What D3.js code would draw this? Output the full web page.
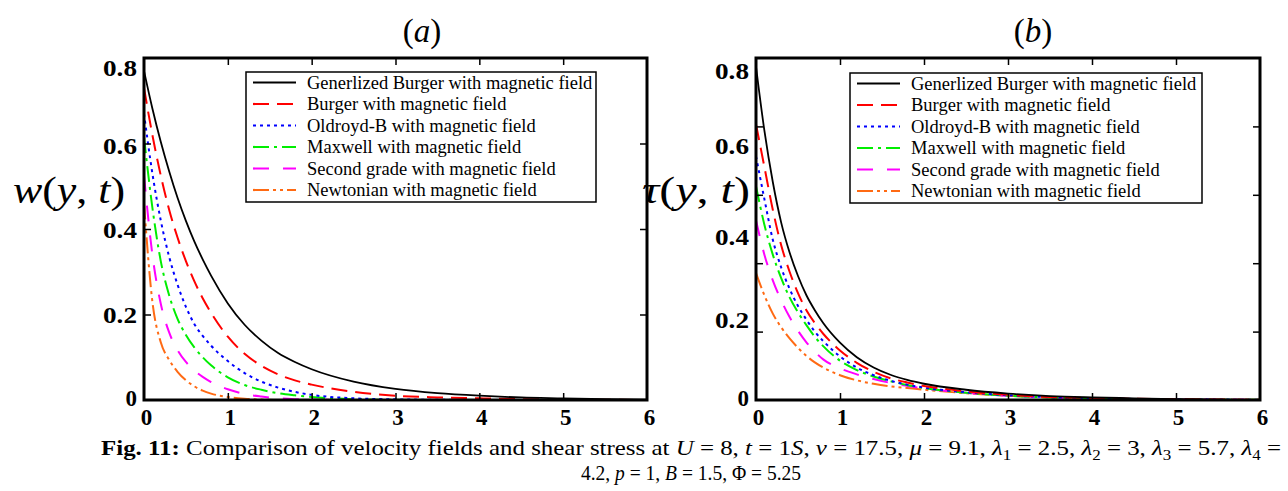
<!DOCTYPE html>
<html><head><meta charset="utf-8">
<script src="https://cdn.jsdelivr.net/npm/d3@7"></script>
<style>body{margin:0;background:#fff} svg{display:block}</style>
</head><body>
<svg id="chart" width="1288" height="491"></svg>
<script>
// ---------------- data ----------------
const yDistance = [0,0.1,0.2,0.3,0.4,0.5,0.6,0.7,0.8,1.0,1.2,1.4,1.6,1.8,2.0,2.5,3.0,3.5,4.0,4.5,5.0,5.5,6.0];
const seriesNames = [
  "Generlized Burger with magnetic field",
  "Burger with magnetic field",
  "Oldroyd-B with magnetic field",
  "Maxwell with magnetic field",
  "Second grade with magnetic field",
  "Newtonian with magnetic field"
];
// (a) velocity w(y,t)
const velGenBurger = [0.77,0.682,0.604,0.535,0.473,0.419,0.371,0.329,0.291,0.226,0.176,0.139,0.11,0.089,0.072,0.043,0.026,0.016,0.010,0.006,0.004,0.002,0.001];
const velBurger    = [0.73,0.62,0.525,0.445,0.38,0.325,0.278,0.238,0.204,0.148,0.108,0.08,0.06,0.046,0.036,0.019,0.01,0.006,0.004,0.002,0.001,0.0005,0];
const velOldroyd   = [0.67,0.53,0.42,0.335,0.27,0.218,0.178,0.15,0.127,0.091,0.063,0.043,0.029,0.019,0.012,0.004,0.0015,0.0005,0,0,0,0,0];
const velMaxwell   = [0.615,0.45,0.325,0.245,0.19,0.152,0.123,0.1,0.081,0.053,0.035,0.024,0.016,0.011,0.007,0.002,0.0005,0,0,0,0,0,0];
const velSecond    = [0.525,0.34,0.225,0.158,0.117,0.089,0.069,0.054,0.042,0.025,0.014,0.008,0.004,0.002,0.001,0,0,0,0,0,0,0,0];
const velNewtonian = [0.46,0.23,0.135,0.094,0.066,0.046,0.032,0.022,0.015,0.007,0.003,0.001,0,0,0,0,0,0,0,0,0,0,0];
// (b) shear stress tau(y,t)
const tauGenBurger = [0.78,0.63,0.51,0.415,0.345,0.29,0.245,0.21,0.18,0.134,0.1,0.076,0.059,0.047,0.038,0.024,0.015,0.009,0.006,0.004,0.002,0.001,0.0005];
const tauBurger    = [0.645,0.545,0.445,0.362,0.3,0.25,0.21,0.18,0.155,0.116,0.087,0.066,0.051,0.041,0.033,0.02,0.012,0.007,0.0045,0.003,0.002,0.001,0.0005];
const tauOldroyd   = [0.57,0.47,0.375,0.31,0.26,0.22,0.188,0.16,0.138,0.102,0.076,0.058,0.045,0.036,0.029,0.018,0.011,0.0065,0.004,0.0025,0.0015,0.001,0.0005];
const tauMaxwell   = [0.5,0.41,0.34,0.285,0.24,0.205,0.175,0.148,0.126,0.092,0.07,0.055,0.044,0.035,0.028,0.017,0.01,0.006,0.0037,0.0023,0.0014,0.0008,0.0004];
const tauSecond    = [0.42,0.34,0.28,0.233,0.194,0.162,0.135,0.113,0.095,0.074,0.06,0.049,0.04,0.033,0.027,0.017,0.01,0.006,0.0035,0.002,0.0012,0.0007,0.0003];
const tauNewtonian = [0.297,0.245,0.202,0.17,0.144,0.122,0.103,0.088,0.076,0.058,0.046,0.038,0.032,0.028,0.024,0.016,0.01,0.006,0.0035,0.002,0.0013,0.0008,0.0004];

const xTicks = [0,1,2,3,4,5,6];
const yTickLabels = [0,0.2,0.4,0.6,0.8];
const yTickMarksA = [0.2,0.4,0.6];
const yTickMarksB = [0.16,0.32,0.48,0.64];

// ---------------- style ----------------
const colors = ["#000000","#ff0000","#0000ff","#00ee00","#ff00ff","#ff6a13"];
const dashes = [null,"16,8","3,4","16,5,3,5","16,14","16,4,3,4,3,4"];

const svg = d3.select("#chart");
const plotTop = 58, plotBottom = 400;

function drawPanel(cfg){
  const x = d3.scaleLinear().domain([0,6]).range([cfg.x0,cfg.x1]);
  const y = d3.scaleLinear().domain([0,0.8]).range([plotBottom,plotTop]);
  const g = svg.append("g");
  const clipId = "clip"+cfg.id;
  svg.append("clipPath").attr("id",clipId).append("rect")
    .attr("x",cfg.x0).attr("y",plotTop-2).attr("width",cfg.x1-cfg.x0).attr("height",plotBottom-plotTop+2);

  const line = d3.line().x((d,i)=>x(yDistance[i])).y(d=>y(d)).curve(d3.curveMonotoneX);
  const lg = g.append("g").attr("clip-path",`url(#${clipId})`);
  cfg.series.slice().reverse().forEach((s,ri)=>{
    const i = cfg.series.length-1-ri;
    lg.append("path").attr("d",line(s)).attr("fill","none")
      .attr("stroke",colors[i]).attr("stroke-width",i===0?1.8:2)
      .attr("stroke-dasharray",dashes[i]);
  });

  // tick marks (inward)
  const tickStyle = sel=>{ sel.select(".domain").remove(); sel.selectAll("line").attr("stroke","#000").attr("stroke-width",1.5); };
  g.append("g").attr("transform",`translate(0,${plotBottom})`)
    .call(d3.axisBottom(x).tickValues([1,2,3,4,5]).tickSizeInner(-7).tickSizeOuter(0).tickFormat(""))
    .call(tickStyle);
  g.append("g").attr("transform",`translate(0,${plotTop})`)
    .call(d3.axisTop(x).tickValues([1,2,3,4,5]).tickSizeInner(-7).tickSizeOuter(0).tickFormat(""))
    .call(tickStyle);
  g.append("g").attr("transform",`translate(${cfg.x0},0)`)
    .call(d3.axisLeft(y).tickValues(cfg.yMarks).tickSizeInner(-7).tickSizeOuter(0).tickFormat(""))
    .call(tickStyle);
  g.append("g").attr("transform",`translate(${cfg.x1},0)`)
    .call(d3.axisRight(y).tickValues(cfg.yMarks).tickSizeInner(-7).tickSizeOuter(0).tickFormat(""))
    .call(tickStyle);

  // tick labels
  const labStyle = sel=>{ sel.select(".domain").remove(); sel.selectAll("line").remove();
    sel.selectAll("text").attr("font-family","'Liberation Serif',serif").attr("font-weight","bold")
      .attr("font-size",23).attr("fill","#000"); };
  g.append("g").attr("transform",`translate(2,${plotBottom})`)
    .call(d3.axisBottom(x).tickValues(xTicks).tickSize(0).tickPadding(9).tickFormat(d3.format("d")))
    .call(labStyle);
  const yl = g.append("g").attr("transform",`translate(${cfg.x0-7},0)`)
    .call(d3.axisLeft(y).tickValues(yTickLabels).tickSize(0).tickPadding(0).tickFormat(d=>d===0?"0":d3.format(".1f")(d)))
    .call(labStyle);
  yl.selectAll("text").attr("dy",(d,i)=> (cfg.labelShift[i]+8)+"px")
    .filter(d=>d!==0).attr("textLength",34).attr("lengthAdjust","spacingAndGlyphs");

  // frame
  g.append("rect").attr("x",cfg.x0).attr("y",plotTop).attr("width",cfg.x1-cfg.x0).attr("height",plotBottom-plotTop)
    .attr("fill","none").attr("stroke","#000").attr("stroke-width",3);

  // legend
  const L = cfg.legend;
  const leg = g.append("g");
  leg.append("rect").attr("x",L.x).attr("y",L.y).attr("width",L.w).attr("height",L.h)
    .attr("fill","#fff").attr("stroke","#000").attr("stroke-width",1.5);
  seriesNames.forEach((n,i)=>{
    const cy = L.y + 10.5 + i*21.5;
    leg.append("line").attr("x1",L.x+7).attr("x2",L.x+50).attr("y1",cy).attr("y2",cy)
      .attr("stroke",colors[i]).attr("stroke-width",2.2).attr("stroke-dasharray",dashes[i]);
    leg.append("text").attr("x",L.x+61).attr("y",cy+6).text(n)
      .attr("font-family","'Liberation Serif',serif").attr("font-size",18.5).attr("fill","#000");
  });

  // title
  const t = g.append("text").attr("x",cfg.titleX).attr("y",42).attr("text-anchor","middle")
    .attr("font-family","'Liberation Serif',serif").attr("font-size",33);
  t.append("tspan").text("(");
  t.append("tspan").attr("font-style","italic").text(cfg.title);
  t.append("tspan").text(")");

  // y label
  const yt = g.append("text").attr("x",cfg.ylabX).attr("y",203)
    .attr("font-family","'Liberation Serif',serif").attr("font-size",38)
    .attr("textLength",cfg.ylabW).attr("lengthAdjust","spacingAndGlyphs");
  yt.append("tspan").attr("font-style","italic").text(cfg.ylab);
  yt.append("tspan").text("(");
  yt.append("tspan").attr("font-style","italic").text("y");
  yt.append("tspan").text(", ");
  yt.append("tspan").attr("font-style","italic").text("t");
  yt.append("tspan").text(")");
}

drawPanel({id:"a", x0:144, x1:647, title:"a", titleX:422, ylab:"w", ylabX:13, ylabW:112,
  series:[velGenBurger,velBurger,velOldroyd,velMaxwell,velSecond,velNewtonian],
  yMarks:yTickMarksA, labelShift:[-3,0,0,2,9],
  legend:{x:246,y:72,w:350,h:130}});
drawPanel({id:"b", x0:756, x1:1260, title:"b", titleX:1033, ylab:"τ", ylabX:642, ylabW:108,
  series:[tauGenBurger,tauBurger,tauOldroyd,tauMaxwell,tauSecond,tauNewtonian],
  yMarks:yTickMarksB, labelShift:[-3,5,7,2,12],
  legend:{x:850,y:73,w:352,h:130}});

// caption
function addParts(el, parts){
  let sub=false;
  parts.forEach(([txt,st])=>{
    const ts = el.append("tspan").text(txt);
    if(st==="b") ts.attr("font-weight","bold");
    if(st==="i") ts.attr("font-style","italic");
    if(st==="s"){ ts.attr("font-size",15).attr("dy",5); sub=true; }
    else if(sub){ ts.attr("dy",-5); sub=false; }
  });
}
const cap1 = svg.append("text").attr("x",101).attr("y",455)
  .attr("font-family","'Liberation Serif',serif").attr("font-size",22)
  .attr("textLength",1180).attr("lengthAdjust","spacingAndGlyphs");
addParts(cap1, [
  ["Fig. 11:","b"],[" Comparison of velocity fields and shear stress at ",""],
  ["U","i"],[" = 8,  ",""],["t","i"],[" = 1",""],["S","i"],[", ",""],["ν","i"],[" = 17.5,  ",""],
  ["μ","i"],[" = 9.1,  ",""],["λ","i"],["1","s"],[" = 2.5, ",""],["λ","i"],["2","s"],[" = 3, ",""],
  ["λ","i"],["3","s"],[" = 5.7, ",""],["λ","i"],["4","s"],[" =",""]
]);
const cap2 = svg.append("g").attr("transform","translate(691,480) scale(0.93,1)")
  .append("text").attr("x",0).attr("y",0).attr("text-anchor","middle")
  .attr("font-family","'Liberation Serif',serif").attr("font-size",21);
addParts(cap2, [["4.2,  ",""],["p","i"],[" = 1, ",""],["B","i"],[" = 1.5,  Φ = 5.25",""]]);
</script>
</body></html>
